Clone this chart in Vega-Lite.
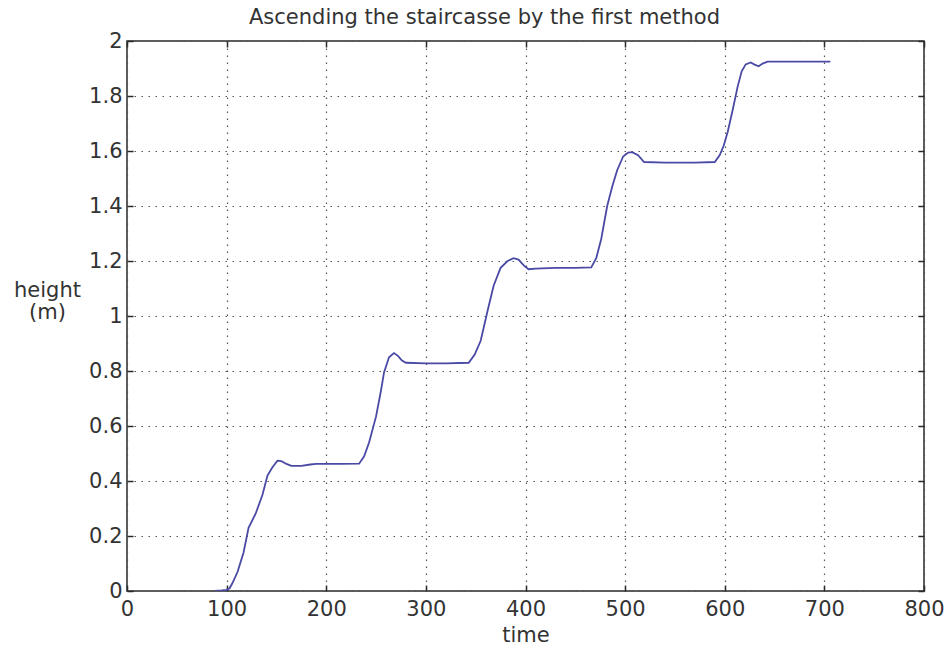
{
  "$schema": "https://vega.github.io/schema/vega-lite/v6.json",
  "width": 797,
  "height": 550,
  "autosize": {"type": "none"},
  "padding": {"left": 127, "top": 41, "right": 24, "bottom": 57},
  "background": "white",
  "config": {
    "view": {"stroke": "#2a2a2a", "strokeWidth": 1.5},
    "axis": {
      "domain": false,
      "labelFont": "DejaVu Sans",
      "labelFontSize": 21,
      "labelColor": "#333333",
      "labelFlush": false,
      "labelOverlap": false,
      "titleFont": "DejaVu Sans",
      "titleFontSize": 21,
      "titleFontWeight": "normal",
      "titleColor": "#333333",
      "tickColor": "#2a2a2a",
      "tickWidth": 1.5,
      "tickSize": -6,
      "gridColor": "#555555",
      "gridWidth": 1.2,
      "gridDash": [1.5, 5.5],
      "gridOpacity": 1
    }
  },
  "data": {
    "values": [
      {"time": 88, "height": 0},
      {"time": 95, "height": 0.002},
      {"time": 100, "height": 0.004},
      {"time": 103, "height": 0.01},
      {"time": 106, "height": 0.03},
      {"time": 111, "height": 0.07},
      {"time": 117, "height": 0.14},
      {"time": 122, "height": 0.23},
      {"time": 129, "height": 0.28},
      {"time": 136, "height": 0.35},
      {"time": 141, "height": 0.42},
      {"time": 146, "height": 0.45},
      {"time": 151, "height": 0.474},
      {"time": 155, "height": 0.472},
      {"time": 160, "height": 0.462},
      {"time": 165, "height": 0.455},
      {"time": 175, "height": 0.455},
      {"time": 184, "height": 0.46},
      {"time": 190, "height": 0.462},
      {"time": 200, "height": 0.462},
      {"time": 215, "height": 0.462},
      {"time": 233, "height": 0.463},
      {"time": 238, "height": 0.49},
      {"time": 243, "height": 0.54},
      {"time": 250, "height": 0.635},
      {"time": 255, "height": 0.73},
      {"time": 258, "height": 0.795},
      {"time": 263, "height": 0.85},
      {"time": 268, "height": 0.865},
      {"time": 272, "height": 0.855},
      {"time": 276, "height": 0.838},
      {"time": 280, "height": 0.83},
      {"time": 300, "height": 0.828},
      {"time": 320, "height": 0.828},
      {"time": 343, "height": 0.83},
      {"time": 349, "height": 0.86},
      {"time": 355, "height": 0.91},
      {"time": 362, "height": 1.02},
      {"time": 368, "height": 1.11},
      {"time": 375, "height": 1.175},
      {"time": 382, "height": 1.2},
      {"time": 388, "height": 1.21},
      {"time": 393, "height": 1.205},
      {"time": 398, "height": 1.185},
      {"time": 403, "height": 1.17},
      {"time": 410, "height": 1.172},
      {"time": 430, "height": 1.175},
      {"time": 450, "height": 1.175},
      {"time": 466, "height": 1.177},
      {"time": 471, "height": 1.21},
      {"time": 476, "height": 1.28},
      {"time": 482, "height": 1.4},
      {"time": 487, "height": 1.47},
      {"time": 492, "height": 1.53},
      {"time": 498, "height": 1.58},
      {"time": 503, "height": 1.594},
      {"time": 507, "height": 1.596},
      {"time": 513, "height": 1.585},
      {"time": 519, "height": 1.56},
      {"time": 540, "height": 1.558},
      {"time": 570, "height": 1.558},
      {"time": 590, "height": 1.56},
      {"time": 595, "height": 1.585},
      {"time": 599, "height": 1.62},
      {"time": 603, "height": 1.67},
      {"time": 608, "height": 1.75},
      {"time": 613, "height": 1.835},
      {"time": 617, "height": 1.89},
      {"time": 621, "height": 1.915},
      {"time": 626, "height": 1.922},
      {"time": 630, "height": 1.914},
      {"time": 634, "height": 1.908},
      {"time": 638, "height": 1.918},
      {"time": 643, "height": 1.925},
      {"time": 670, "height": 1.925},
      {"time": 706, "height": 1.925}
    ]
  },
  "resolve": {"axis": {"x": "independent", "y": "independent"}},
  "layer": [
    {
      "mark": {"type": "line", "color": "#4a4aa6", "strokeWidth": 1.8, "clip": true},
      "encoding": {
        "x": {
          "field": "time",
          "type": "quantitative",
          "scale": {"domain": [0, 800], "nice": false, "zero": false},
          "axis": {
            "orient": "bottom",
            "title": "time",
            "values": [0, 100, 200, 300, 400, 500, 600, 700, 800],
            "labelPadding": 13,
            "titlePadding": 5,
            "grid": true
          }
        },
        "y": {
          "field": "height",
          "type": "quantitative",
          "scale": {"domain": [0, 2], "nice": false},
          "axis": {
            "orient": "left",
            "title": ["height", "(m)"],
            "titleAngle": 0,
            "titleAlign": "center",
            "titleBaseline": "alphabetic",
            "titleLineHeight": 22,
            "titleX": -80,
            "titleY": 255,
            "values": [0, 0.2, 0.4, 0.6, 0.8, 1, 1.2, 1.4, 1.6, 1.8, 2],
            "format": "~g",
            "labelPadding": 11,
            "grid": true
          }
        }
      }
    },
    {
      "mark": {"type": "point", "opacity": 0},
      "encoding": {
        "x": {
          "field": "time",
          "type": "quantitative",
          "axis": {
            "orient": "top",
            "title": "Ascending the staircasse by the first method",
            "titleX": 357,
            "titleY": -18,
            "titleAlign": "center",
            "titleBaseline": "alphabetic",
            "labels": false,
            "grid": false,
            "values": [0, 100, 200, 300, 400, 500, 600, 700, 800]
          }
        },
        "y": {
          "field": "height",
          "type": "quantitative",
          "axis": {
            "orient": "right",
            "title": null,
            "labels": false,
            "grid": false,
            "values": [0, 0.2, 0.4, 0.6, 0.8, 1, 1.2, 1.4, 1.6, 1.8, 2]
          }
        }
      }
    }
  ]
}
